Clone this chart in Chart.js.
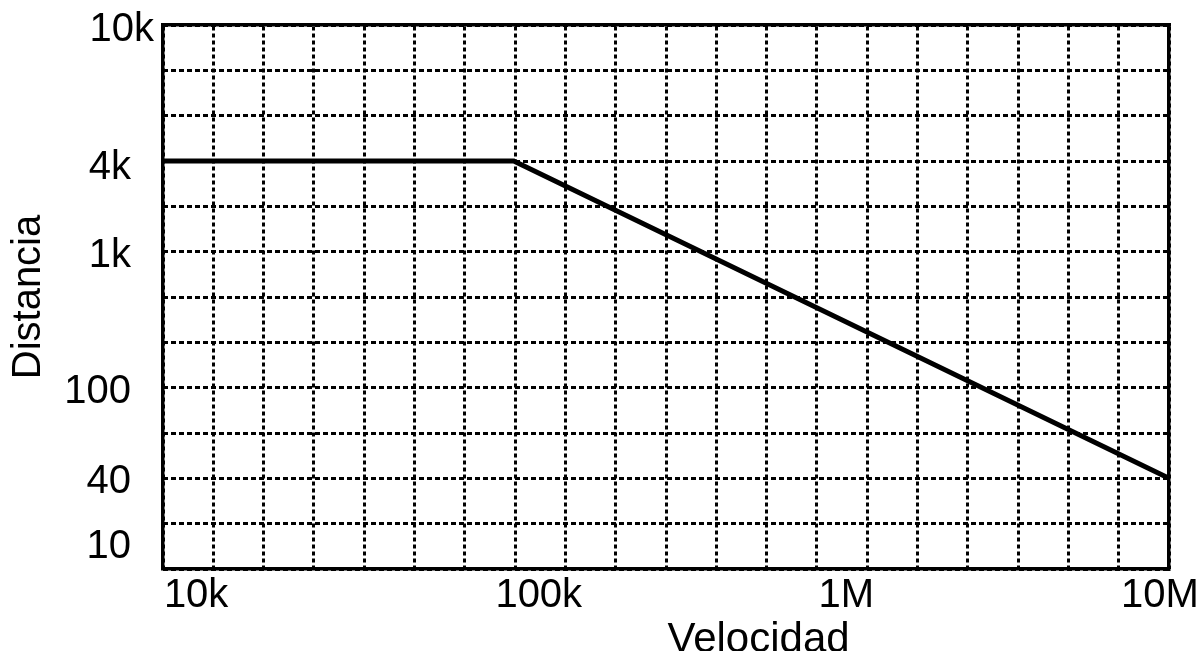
<!DOCTYPE html>
<html>
<head>
<meta charset="utf-8">
<title>Distancia vs Velocidad</title>
<script src="https://cdn.jsdelivr.net/npm/chart.js@4.4.1/dist/chart.umd.min.js"></script>
<style>
  html, body { margin: 0; padding: 0; background: #fff; overflow: hidden; }
  #wrap { width: 1202px; height: 665px; }
</style>
</head>
<body>
<div id="wrap"><canvas id="chart" width="1202" height="665"></canvas></div>
<script>
(function () {
  "use strict";

  // data
  const velocidad = [8500, 100000, 10000000];
  const distancia = [4000, 4000, 40];

  const xTicks = [10000, 100000, 1000000, 10000000];
  const xTickLabels = ["10k", "100k", "1M", "10M"];
  const yTicks = [10, 40, 100, 1000, 4000, 10000];
  const yTickLabels = ["10", "40", "100", "1k", "4k", "10k"];

  const xTitle = "Velocidad";
  const yTitle = "Distancia";

  // layout of the drawing: the y labels sit on fixed rows of a 12 row grid
  const gridCols = 20;
  const gridRows = 12;
  const yTickRows = [0.5, 2, 4, 7, 9, 12];

  // small hand placement of the labels, [dx, dy] in px, as in the original
  const xLabelShift = [[10, 1], [25, 1], [5, 1], [-9, 1]];
  const yLabelShift = [[0, 1], [0, 4], [0, 4], [0, 4], [0, 7], [23, 5]];

  const FONT = "'Liberation Sans', Arial, Helvetica, sans-serif";
  Chart.defaults.font.family = FONT;
  Chart.defaults.color = "#000";

  function shiftLabels(items, shifts) {
    items.forEach(function (item, i) {
      const s = shifts[i];
      if (!s) return;
      item.options.translation[0] += s[0];
      item.options.translation[1] += s[1];
    });
    return items;
  }

  class NudgedLogScale extends Chart.LogarithmicScale {
    _computeLabelItems(chartArea) {
      const items = super._computeLabelItems(chartArea);
      return shiftLabels(items, this.axis === "x" ? xLabelShift : yLabelShift);
    }
  }
  NudgedLogScale.id = "nudgedLog";
  NudgedLogScale.defaults = Chart.LogarithmicScale.defaults;

  // log scale whose decades are placed on the drawing's grid rows
  class RowLogScale extends NudgedLogScale {
    rowOf(value) {
      const lv = Math.log10(value);
      const logs = yTicks.map(function (v) { return Math.log10(v); });
      let i = 0;
      while (i < logs.length - 2 && lv > logs[i + 1]) i++;
      const t = (lv - logs[i]) / (logs[i + 1] - logs[i]);
      return yTickRows[i] + t * (yTickRows[i + 1] - yTickRows[i]);
    }
    getPixelForValue(value) {
      return this.getPixelForDecimal(this.rowOf(value) / gridRows);
    }
    getValueForPixel(pixel) {
      const row = this.getDecimalForPixel(pixel) * gridRows;
      let i = 0;
      while (i < yTickRows.length - 2 && row > yTickRows[i + 1]) i++;
      const t = (row - yTickRows[i]) / (yTickRows[i + 1] - yTickRows[i]);
      const a = Math.log10(yTicks[i]);
      const b = Math.log10(yTicks[i + 1]);
      return Math.pow(10, a + t * (b - a));
    }
  }
  RowLogScale.id = "rowLog";
  RowLogScale.defaults = Chart.LogarithmicScale.defaults;
  Chart.register(NudgedLogScale, RowLogScale);

  // "Velocidad" sits right of centre in the original, so it is drawn here
  const xTitlePlugin = {
    id: "xTitlePlugin",
    afterDraw: function (chart) {
      const ctx = chart.ctx;
      const area = chart.chartArea;
      ctx.save();
      ctx.font = "42px " + FONT;
      ctx.fillStyle = "#000";
      ctx.textAlign = "center";
      ctx.textBaseline = "alphabetic";
      ctx.fillText(xTitle, area.left + area.width * 0.592, area.bottom + 83);
      ctx.restore();
    }
  };

  const points = velocidad.map(function (v, i) {
    return { x: v, y: distancia[i] };
  });

  new Chart(document.getElementById("chart"), {
    type: "line",
    data: {
      datasets: [
        {
          label: yTitle,
          data: points,
          borderColor: "#000",
          borderWidth: 5,
          pointRadius: 0,
          tension: 0,
          fill: false
        }
      ]
    },
    plugins: [xTitlePlugin],
    options: {
      responsive: false,
      animation: false,
      layout: { padding: { top: 25, right: 33, left: 0, bottom: 0 } },
      plugins: {
        legend: { display: false },
        tooltip: { enabled: false }
      },
      scales: {
        x: {
          type: "nudgedLog",
          axis: "x",
          position: "bottom",
          min: velocidad[0],
          max: xTicks[xTicks.length - 1],
          afterBuildTicks: function (scale) {
            scale.ticks = xTicks.map(function (v) { return { value: v }; });
          },
          ticks: {
            autoSkip: false,
            maxRotation: 0,
            padding: 2,
            font: { size: 40 },
            callback: function (value) {
              return xTickLabels[xTicks.indexOf(value)];
            }
          },
          grid: { display: false, drawTicks: false, tickLength: 0 },
          border: { display: true, color: "#000", width: 3.5 },
          afterFit: function (scale) {
            scale.height = 96;
            scale.paddingLeft = 0;
            scale.paddingRight = 0;
          }
        },
        y: {
          type: "rowLog",
          axis: "y",
          position: "left",
          min: yTicks[0],
          max: yTicks[yTicks.length - 1],
          afterBuildTicks: function (scale) {
            scale.ticks = yTicks.map(function (v) { return { value: v }; });
          },
          ticks: {
            autoSkip: false,
            padding: 32,
            font: { size: 40 },
            callback: function (value) {
              return yTickLabels[yTicks.indexOf(value)];
            }
          },
          title: {
            display: true,
            text: yTitle,
            font: { size: 40 },
            padding: { top: 5, bottom: 0 }
          },
          grid: { display: false, drawTicks: false, tickLength: 0 },
          border: { display: true, color: "#000", width: 3.5 },
          afterFit: function (scale) {
            scale.width = 163;
            scale.paddingTop = 0;
            scale.paddingBottom = 0;
          }
        },
        // plain grids: 20 columns and 12 rows, their borders close the frame
        xGrid: {
          type: "linear",
          axis: "x",
          position: "top",
          min: 0,
          max: gridCols,
          ticks: { display: false, stepSize: 1 },
          grid: { color: "#000", lineWidth: 3, drawTicks: false, tickLength: 0 },
          border: { display: true, color: "#000", width: 3.5, dash: [4, 3] },
          afterFit: function (scale) {
            scale.height = 0;
            scale.paddingLeft = 0;
            scale.paddingRight = 0;
          }
        },
        yGrid: {
          type: "linear",
          axis: "y",
          position: "right",
          min: 0,
          max: gridRows,
          ticks: { display: false, stepSize: 1 },
          grid: { color: "#000", lineWidth: 3, drawTicks: false, tickLength: 0 },
          border: { display: true, color: "#000", width: 3.5, dash: [5, 3] },
          afterFit: function (scale) {
            scale.width = 0;
            scale.paddingTop = 0;
            scale.paddingBottom = 0;
          }
        }
      }
    }
  });
})();
</script>
</body>
</html>
